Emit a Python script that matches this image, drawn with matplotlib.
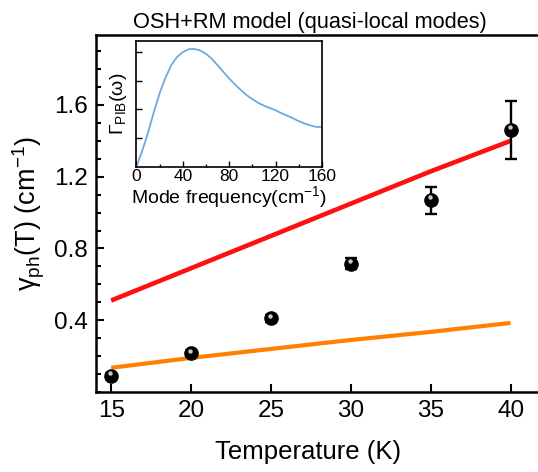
import numpy as np
import matplotlib.pyplot as plt
from matplotlib.ticker import MultipleLocator
from matplotlib.transforms import offset_copy

plt.rcParams['font.family'] = ['Liberation Sans', 'DejaVu Sans']
plt.rcParams['mathtext.fontset'] = 'custom'
plt.rcParams['mathtext.rm'] = 'Liberation Sans'
plt.rcParams['mathtext.it'] = 'Liberation Sans'

# measured linewidth vs temperature
T = [15, 20, 25, 30, 35, 40]
gamma = [0.09, 0.215, 0.41, 0.715, 1.07, 1.46]
gamma_err = [0.015, 0.015, 0.02, 0.03, 0.075, 0.16]

# model curves
T_model = [15, 20, 25, 30, 35, 40]
osh_rm = [0.51, 0.69, 0.87, 1.05, 1.23, 1.40]
osh = [0.135, 0.19, 0.24, 0.29, 0.335, 0.385]

# inset: phonon-impurity-boundary spectral function
freq = [0, 5, 10, 15, 20, 25, 30, 35, 40, 45, 48, 50, 55, 60, 65, 70, 75, 80,
        85, 90, 95, 100, 105, 110, 115, 120, 125, 130, 135, 140, 145, 150, 155, 160]
gpib = [0.0, 0.55, 1.18, 1.9, 2.56, 3.1, 3.54, 3.83, 4.0, 4.1, 4.11, 4.11, 4.06,
        3.94, 3.77, 3.54, 3.31, 3.08, 2.87, 2.68, 2.5, 2.36, 2.23, 2.13, 2.05,
        1.97, 1.87, 1.78, 1.69, 1.59, 1.51, 1.44, 1.39, 1.39]

fig = plt.figure(figsize=(5.38, 4.72), dpi=100)
ax = fig.add_axes([0.1784, 0.1695, 0.83, 0.7563])

ax.plot(T_model, osh_rm, color='#ff1010', lw=3.3, solid_capstyle='butt', zorder=2)
ax.plot(T_model, osh, color='#ff8000', lw=3.0, solid_capstyle='butt', zorder=2)

ax.errorbar(T, gamma, yerr=gamma_err, fmt='none', ecolor='black', elinewidth=1.7,
            capsize=4.5, capthick=1.7, zorder=3)
ax.plot(T, gamma, 'o', color='black', ms=9.5, zorder=4)
hl = offset_copy(ax.transData, fig=fig, x=-0.5, y=2.0, units='points')
ax.plot(T, gamma, 'o', color='#c8c8c8', ms=3.2, mec='none', transform=hl, zorder=5)

ax.set_xlim(14.05, 42)
ax.set_ylim(0, 1.99)
ax.set_xticks([15, 20, 25, 30, 35, 40])
ax.yaxis.set_minor_locator(MultipleLocator(0.1))
ax.set_yticks([0.4, 0.8, 1.2, 1.6])
ax.tick_params(which='both', direction='in', labelsize=17.5, width=1.5)
ax.tick_params(which='major', length=6, pad=6)
ax.tick_params(which='minor', length=3.5)
for s in ax.spines.values():
    s.set_linewidth(1.8)

ax.set_xlabel('Temperature (K)', fontsize=18.5, labelpad=13, x=0.475)
ax.set_ylabel(r'$\gamma_{\mathrm{ph}}$(T) (cm$^{-1}$)', fontsize=19.5, labelpad=5)
ax.set_title('OSH+RM model (quasi-local modes)', fontsize=15.7, pad=5, x=0.48)

# inset
ins = fig.add_axes([0.2535, 0.6468, 0.345, 0.267])
ins.plot(freq, gpib, color='#6fa8dc', lw=1.3)
ins.set_xlim(0, 160)
ins.set_ylim(0, 4.4)
ins.set_xticks([0, 40, 80, 120, 160])
ins.xaxis.set_minor_locator(MultipleLocator(20))
ins.set_yticks([1, 2, 3, 4])
ins.set_yticklabels([])
ins.tick_params(which='both', direction='in', labelsize=12.5, width=1.0, pad=2)
ins.tick_params(which='major', length=4)
ins.tick_params(which='minor', length=2.5)
for s in ins.spines.values():
    s.set_linewidth(1.2)
ins.set_xlabel('Mode frequency(cm$^{-1}$)', fontsize=14, labelpad=0)
ins.set_ylabel(r'$\Gamma_{\mathrm{PIB}}(\omega)$', fontsize=14, labelpad=3)

fig.savefig('out.png', dpi=100)
